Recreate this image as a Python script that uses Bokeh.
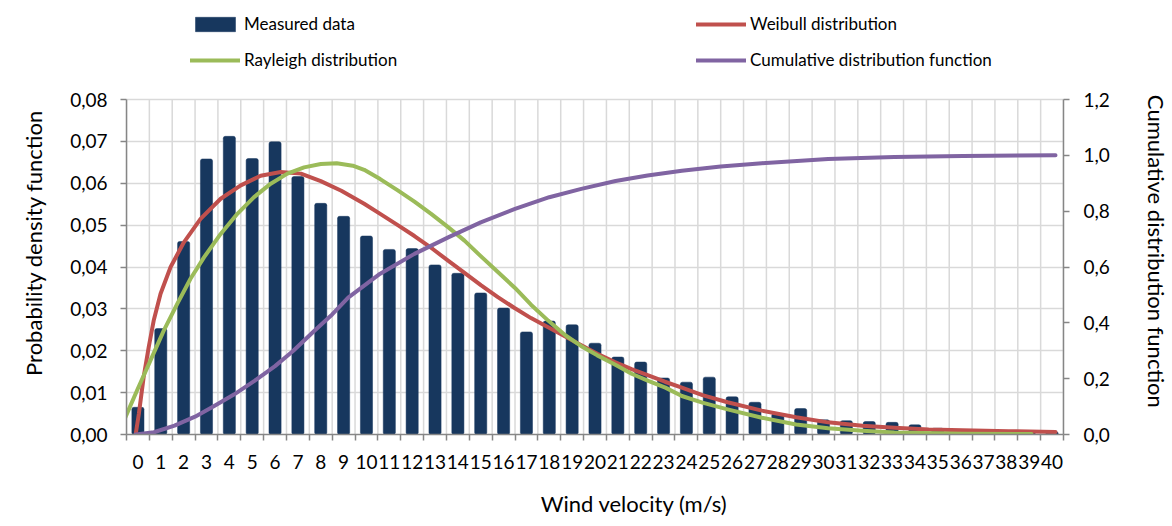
from bokeh.plotting import figure
from bokeh.models import (FixedTicker, CustomJSTickFormatter, Range1d, LinearAxis,
                          Legend, LegendItem)
from bokeh.embed import file_html
from bokeh.resources import INLINE

# ---------------- data ----------------
velocity = list(range(41))
measured = [0.0065, 0.0253, 0.0461, 0.0658, 0.0712, 0.0659, 0.0699, 0.0616, 0.0552, 0.0521,
            0.0474, 0.0442, 0.0444, 0.0405, 0.0385, 0.0338, 0.0302, 0.0245, 0.0271, 0.0262,
            0.0218, 0.0185, 0.0173, 0.0135, 0.0125, 0.0137, 0.0090, 0.0077, 0.0050, 0.0062,
            0.0035, 0.0033, 0.0031, 0.0029, 0.0023, 0.0015, 0.0011, 0.0008, 0.0006, 0.0005,
            0.0006]

weibull_v = [-0.1, 0.04, 0.25, 0.47, 0.69, 0.99, 1.43, 2.01, 2.74, 3.62, 4.5, 5.37, 6.25,
             7.13, 8.0, 8.9, 9.9, 10.6, 11.37, 12.1, 12.9, 13.6, 14.29, 15.02, 15.75, 16.48,
             17.2, 17.95, 18.7, 19.4, 20.1, 20.87, 21.6, 22.33, 23.06, 23.8, 24.7, 25.8,
             27.3, 28.8, 30.2, 31.7, 33.1, 34.6, 36.07, 38.1, 40.15]
weibull_pdf = [0.0, 0.0049, 0.0137, 0.0208, 0.0272, 0.0336, 0.0400, 0.0459, 0.0515, 0.0563,
               0.0595, 0.0618, 0.0627, 0.0623, 0.0605, 0.0582, 0.0551, 0.0527, 0.0500, 0.0474,
               0.0443, 0.0414, 0.0386, 0.0356, 0.0328, 0.0302, 0.0278, 0.0256, 0.0234, 0.0213,
               0.0193, 0.0173, 0.0156, 0.0141, 0.0126, 0.0112, 0.0094, 0.0077, 0.0057, 0.0041,
               0.0029, 0.0021, 0.0016, 0.0012, 0.0010, 0.0008, 0.0006]

rayleigh_v = [-0.55, -0.04, 0.55, 1.13, 1.72, 2.3, 2.89, 3.62, 4.35, 5.08, 5.81, 6.54, 7.27,
              8.0, 8.7, 9.4, 9.9, 10.6, 11.37, 12.1, 12.83, 13.6, 14.29, 15.0, 15.75, 16.5,
              17.2, 17.95, 18.7, 19.4, 20.1, 20.87, 21.6, 22.33, 23.08, 23.8, 24.7, 25.8,
              27.3, 28.8, 30.2, 31.7, 33.1, 36.1, 39.1]
rayleigh_pdf = [0.0041, 0.0105, 0.0177, 0.0248, 0.0312, 0.0372, 0.0423, 0.0479, 0.0527, 0.0567,
                0.0599, 0.0623, 0.0638, 0.0646, 0.0648, 0.0642, 0.0632, 0.0610, 0.0583, 0.0556,
                0.0527, 0.0494, 0.0463, 0.0426, 0.0388, 0.0350, 0.0310, 0.0272, 0.0237, 0.0211,
                0.0189, 0.0167, 0.0145, 0.0128, 0.0112, 0.0092, 0.0076, 0.0060, 0.0040, 0.0024,
                0.0015, 0.0009, 0.0005, 0.0002, 0.0001]

cdf_v = [-0.1, 0.7, 1.6, 2.5, 3.3, 4.2, 5.1, 6.0, 6.8, 7.7, 8.5, 9.2, 10.6, 12.1, 13.6, 15.0,
         16.5, 18.0, 19.4, 20.9, 22.3, 23.8, 25.5, 27.3, 30.2, 33.1, 36.1, 40.15]
cdf = [0.0, 0.008, 0.032, 0.064, 0.100, 0.143, 0.192, 0.245, 0.300, 0.370, 0.430, 0.490,
       0.576, 0.647, 0.707, 0.760, 0.808, 0.850, 0.880, 0.908, 0.928, 0.945, 0.960, 0.972,
       0.987, 0.994, 0.998, 1.000]

x_tick_labels = [str(v) for v in velocity]
y_ticks = [0.00, 0.01, 0.02, 0.03, 0.04, 0.05, 0.06, 0.07, 0.08]
y_tick_labels = ["0,00", "0,01", "0,02", "0,03", "0,04", "0,05", "0,06", "0,07", "0,08"]
y2_ticks = [0.0, 0.2, 0.4, 0.6, 0.8, 1.0, 1.2]
y2_tick_labels = ["0,0", "0,2", "0,4", "0,6", "0,8", "1,0", "1,2"]

x_title = "Wind velocity (m/s)"
y_title = "Probability density function"
y2_title = "Cumulative distribution function"

# ---------------- styles / layout ----------------
FONT = "Lato"
NAVY = "#17375E"
RED = "#C0504D"
GREEN = "#9BBB59"
PURPLE = "#8064A2"
AXIS = "#868686"
GRID = "#D9D9D9"
NBSP = "\u00a0"   # used only to nudge axis titles off the frame centre

FRAME_H = 434     # frame spans from the top of the page down to the x axis (legend lives inside)
PLOT_H = 335      # pixel height of the value area 0 .. 0.08
stretch = FRAME_H / PLOT_H

boundaries = [v - 0.5 for v in velocity] + [velocity[-1] + 0.5]

p = figure(width=1172, height=526,
           min_border_left=126, min_border_right=108, min_border_top=0, min_border_bottom=92,
           x_range=Range1d(-0.5, 40.5), y_range=Range1d(0, y_ticks[-1] * stretch),
           output_backend="svg", toolbar_location=None)
p.outline_line_color = None
p.background_fill_color = "white"
p.border_fill_color = "white"

p.extra_y_ranges = {"cdf": Range1d(0, y2_ticks[-1] * stretch)}

fmt_code = """
const i = tvals.findIndex(t => Math.abs(t - tick) < 1e-9);
return i >= 0 ? tlabels[i] : '';
"""


def fmt(vals, labels):
    return CustomJSTickFormatter(args=dict(tvals=vals, tlabels=labels), code=fmt_code)


def style_axis(ax):
    ax.axis_line_color = AXIS
    ax.axis_line_width = 1.5
    ax.major_label_text_font = FONT
    ax.major_label_text_font_size = "19px"
    ax.major_label_text_color = "black"
    ax.axis_label_text_font = FONT
    ax.axis_label_text_font_size = "22px"
    ax.axis_label_text_font_style = "normal"
    ax.axis_label_text_color = "black"


# x axis
xa = p.xaxis[0]
style_axis(xa)
xa.ticker = FixedTicker(ticks=velocity, minor_ticks=boundaries)
xa.formatter = fmt(velocity, x_tick_labels)
xa.major_tick_out = 0
xa.major_tick_in = 0
xa.minor_tick_out = 6
xa.minor_tick_in = 0
xa.minor_tick_line_color = AXIS
xa.minor_tick_line_width = 1.5
xa.major_label_standoff = 14
xa.axis_label = NBSP * 14 + x_title
xa.axis_label_standoff = 18

# left axis
ya = p.yaxis[0]
style_axis(ya)
ya.bounds = (y_ticks[0], y_ticks[-1])
ya.ticker = FixedTicker(ticks=y_ticks)
ya.formatter = fmt(y_ticks, y_tick_labels)
ya.major_tick_out = 6
ya.major_tick_in = 0
ya.minor_tick_out = 0
ya.minor_tick_in = 0
ya.major_tick_line_color = AXIS
ya.major_tick_line_width = 1.5
ya.major_label_standoff = 13
ya.axis_label = y_title + NBSP * 9
ya.axis_label_standoff = 20

# right axis
ya2 = LinearAxis(y_range_name="cdf", ticker=FixedTicker(ticks=y2_ticks),
                 formatter=fmt(y2_ticks, y2_tick_labels), bounds=(y2_ticks[0], y2_ticks[-1]))
style_axis(ya2)
ya2.major_tick_out = 6
ya2.major_tick_in = 0
ya2.minor_tick_out = 0
ya2.minor_tick_in = 0
ya2.major_tick_line_color = AXIS
ya2.major_tick_line_width = 1.5
ya2.major_label_standoff = 14
ya2.axis_label = NBSP * 12 + y2_title
ya2.axis_label_standoff = 30
p.add_layout(ya2, "right")

# grids: horizontal from the left ticker, vertical between the categories
p.xgrid.visible = False
p.ygrid.grid_line_color = GRID
p.ygrid.grid_line_width = 1.5
p.segment(x0=boundaries, y0=[y_ticks[0]] * len(boundaries),
          x1=boundaries, y1=[y_ticks[-1]] * len(boundaries),
          line_color=GRID, line_width=1.5, level="underlay")

# glyphs
bars = p.vbar(x=velocity, top=measured, width=0.53, fill_color=NAVY, line_color=NAVY,
              line_width=0.5, border_radius=2)
lw = p.line(weibull_v, weibull_pdf, line_color=RED, line_width=4, line_cap="round", line_join="round")
lr = p.line(rayleigh_v, rayleigh_pdf, line_color=GREEN, line_width=4, line_cap="round", line_join="round")
lc = p.line(cdf_v, cdf, line_color=PURPLE, line_width=4, line_cap="round", line_join="round",
            y_range_name="cdf")

legend_style = dict(orientation="horizontal", glyph_width=50, glyph_height=18, label_height=18,
                    label_width=200, label_standoff=4, spacing=252, padding=0, margin=0,
                    border_line_alpha=0, background_fill_alpha=0,
                    label_text_font=FONT, label_text_font_size="17px", label_text_color="black")

legend_row1 = Legend(items=[LegendItem(label="Measured data", renderers=[bars]),
                            LegendItem(label="Weibull distribution", renderers=[lw])],
                     location=(64, 400), **legend_style)
legend_row2 = Legend(items=[LegendItem(label="Rayleigh distribution", renderers=[lr]),
                            LegendItem(label="Cumulative distribution function", renderers=[lc])],
                     location=(64, 364), **legend_style)
p.add_layout(legend_row1, "center")
p.add_layout(legend_row2, "center")

open("out.html", "w").write(file_html(p, INLINE))
